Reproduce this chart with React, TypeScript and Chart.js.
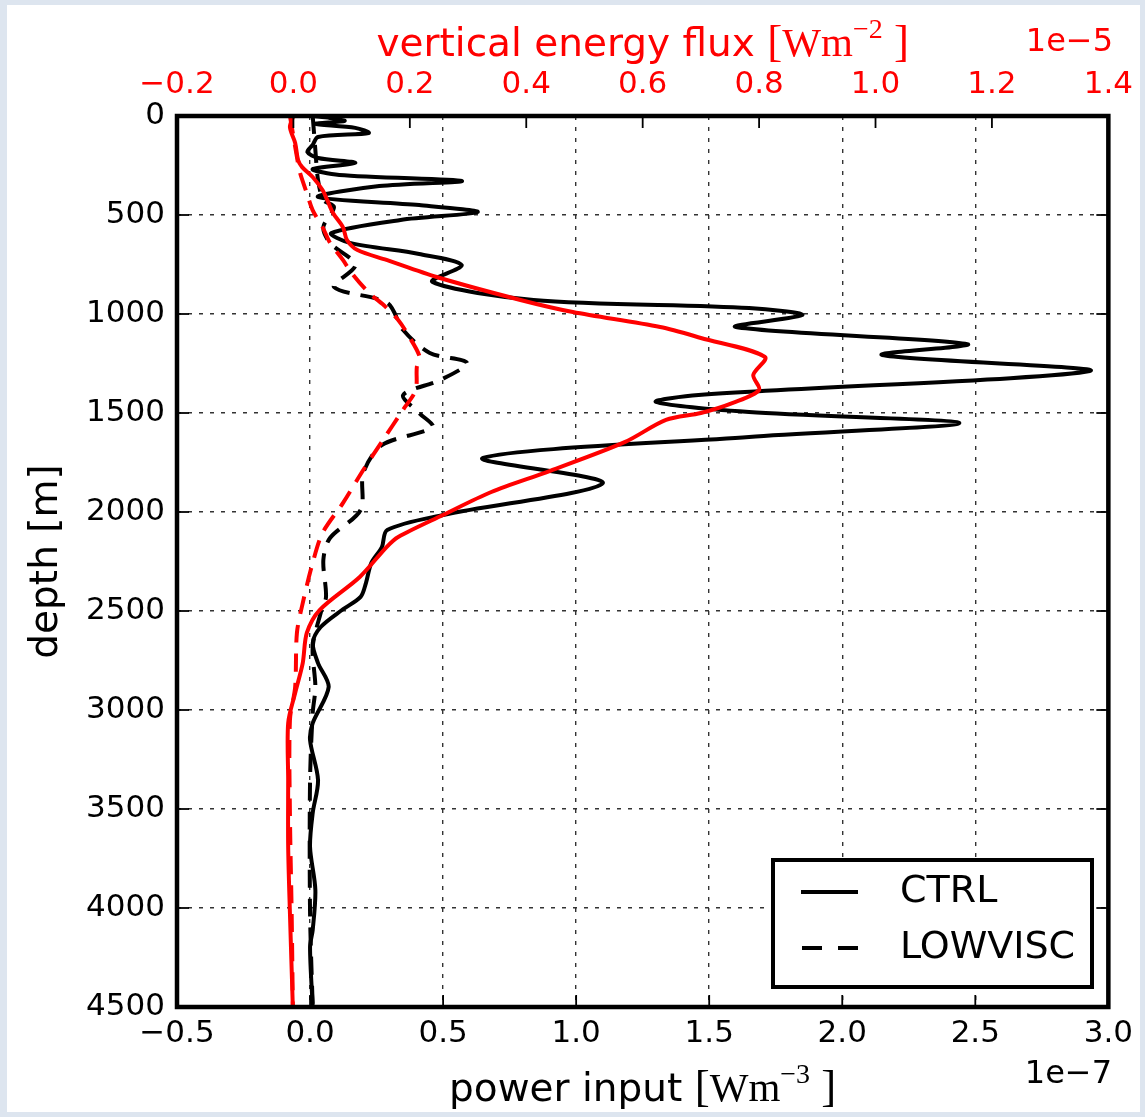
import React, { useEffect, useRef } from "react";
import { Chart, registerables } from "chart.js";

Chart.register(...registerables);

// power input, units of 1e-7 W m^-3
const ctrlPowerDepth = [0, 10, 25, 40, 60, 86, 106, 146, 182, 212, 237, 268, 298, 328, 354, 409, 450, 485, 525, 591, 641, 697, 753, 838, 929, 970, 1005, 1066, 1152, 1207, 1288, 1409, 1444, 1495, 1551, 1621, 1727, 1854, 2015, 2091, 2177, 2258, 2359, 2429, 2495, 2581, 2662, 2763, 2884, 3066, 3152, 3354, 3520, 3692, 3909, 4111, 4197, 4500];
const ctrlPower = [0.01, 0.075, 0.13, 0.02, 0.17, 0.22, 0.03, 0.01, -0.01, 0.03, 0.17, 0.01, 0.11, 0.57, 0.26, 0.03, 0.41, 0.63, 0.34, 0.08, 0.15, 0.41, 0.57, 0.46, 0.84, 1.65, 1.85, 1.6, 2.47, 2.15, 2.93, 1.46, 1.3, 1.65, 2.44, 1.65, 0.65, 1.1, 0.5, 0.29, 0.27, 0.23, 0.21, 0.19, 0.12, 0.04, 0.01, 0.03, 0.07, 0.01, 0.0, 0.03, 0.01, 0.0, 0.02, 0.01, 0.0, 0.01];

const lowviscPowerDepth = [0, 172, 323, 424, 460, 561, 641, 753, 864, 944, 1081, 1197, 1247, 1333, 1409, 1500, 1571, 1662, 1803, 1990, 2131, 2242, 2429, 2510, 2682, 2884, 3015, 3354, 4025, 4500];
const lowviscPower = [0.01, 0.02, 0.03, 0.05, 0.09, 0.05, 0.075, 0.17, 0.09, 0.29, 0.35, 0.45, 0.59, 0.49, 0.35, 0.41, 0.46, 0.27, 0.2, 0.19, 0.075, 0.05, 0.06, 0.04, 0.01, 0.02, 0.01, 0.0, 0.0, 0.01];

// vertical energy flux, units of 1e-5 W m^-2
const ctrlFluxDepth = [0, 56, 136, 222, 258, 308, 374, 424, 490, 561, 626, 677, 727, 813, 929, 990, 1066, 1121, 1217, 1308, 1384, 1449, 1500, 1535, 1646, 1793, 1899, 2015, 2126, 2177, 2328, 2495, 2611, 2763, 2914, 3066, 3354, 3692, 4025, 4500];
const ctrlFlux = [0.0, -0.006, 0.003, 0.008, 0.015, 0.033, 0.05, 0.058, 0.068, 0.085, 0.092, 0.11, 0.16, 0.246, 0.39, 0.48, 0.63, 0.7, 0.81, 0.79, 0.8, 0.755, 0.7, 0.64, 0.57, 0.44, 0.34, 0.257, 0.18, 0.16, 0.114, 0.045, 0.023, 0.016, 0.003, -0.009, -0.009, -0.009, -0.006, -0.001];

const lowviscFluxDepth = [0, 86, 207, 283, 389, 475, 561, 641, 727, 793, 894, 955, 1030, 1096, 1217, 1268, 1384, 1485, 1636, 1788, 1955, 2106, 2258, 2460, 2611, 2884, 3051, 3520, 4025, 4500];
const lowviscFlux = [-0.006, -0.001, 0.006, 0.011, 0.023, 0.033, 0.05, 0.063, 0.085, 0.1, 0.13, 0.155, 0.18, 0.195, 0.217, 0.212, 0.21, 0.188, 0.154, 0.12, 0.085, 0.05, 0.033, 0.016, 0.006, 0.003, -0.006, -0.006, -0.003, -0.001];

const seriesLabels = ["CTRL", "LOWVISC"];
const bottomTitle = "power input ";
const topTitle = "vertical energy flux ";
const leftTitle = "depth [m]";
const bottomExponent = "1e\u22127";
const topExponent = "1e\u22125";

const RED = "#ff0000";
const SANS = "'DejaVu Sans', sans-serif";
const SERIF = "'Liberation Serif', 'DejaVu Serif', serif";

const pts = (ys: number[], xs: number[]) => ys.map((y, i) => ({ x: xs[i], y }));
const fmt = (v: number) => (v < -1e-9 ? "\u2212" : "") + Math.abs(v).toFixed(1);

function drawMath(ctx: CanvasRenderingContext2D, parts: { t: string; f: string; dy?: number }[], cx: number, base: number, color: string) {
  let total = 0;
  parts.forEach((p) => {
    ctx.font = p.f;
    total += ctx.measureText(p.t).width;
  });
  let x = cx - total / 2;
  ctx.fillStyle = color;
  ctx.textAlign = "left";
  ctx.textBaseline = "alphabetic";
  parts.forEach((p) => {
    ctx.font = p.f;
    ctx.fillText(p.t, x, base - (p.dy || 0));
    x += ctx.measureText(p.t).width;
  });
}

const decorPlugin = {
  id: "decor",
  afterDraw(chart: any) {
    const ctx: CanvasRenderingContext2D = chart.ctx;
    const { left, right, top, bottom } = chart.chartArea;
    const { x, x2, y } = chart.scales;
    ctx.save();
    // inward ticks
    ctx.strokeStyle = "#000";
    ctx.lineWidth = 1.8;
    const TL = 12;
    const seg = (a: number, b: number, c: number, d: number) => {
      ctx.beginPath();
      ctx.moveTo(a, b);
      ctx.lineTo(c, d);
      ctx.stroke();
    };
    x.ticks.forEach((t: any) => {
      const p = x.getPixelForValue(t.value);
      seg(p, bottom, p, bottom - TL);
    });
    x2.ticks.forEach((t: any) => {
      const p = x2.getPixelForValue(t.value);
      seg(p, top, p, top + TL);
    });
    y.ticks.forEach((t: any) => {
      const p = y.getPixelForValue(t.value);
      seg(left, p, left + TL, p);
      seg(right, p, right - TL, p);
    });
    // frame
    ctx.lineWidth = 4.5;
    ctx.strokeRect(left, top, right - left, bottom - top);

    // legend
    ctx.fillStyle = "#fff";
    ctx.fillRect(773, 860, 319, 127);
    ctx.lineWidth = 4;
    ctx.strokeRect(773, 860, 319, 127);
    ctx.strokeStyle = "#000";
    ctx.lineWidth = 4;
    ctx.setLineDash([]);
    seg(801, 892, 858, 892);
    ctx.setLineDash([20, 16]);
    seg(802, 948, 858, 948);
    ctx.setLineDash([]);
    ctx.fillStyle = "#000";
    ctx.font = `38px ${SANS}`;
    ctx.textAlign = "left";
    ctx.textBaseline = "middle";
    ctx.fillText(seriesLabels[0], 900, 892);
    ctx.fillText(seriesLabels[1], 900, 948);

    // exponents
    ctx.font = `32px ${SANS}`;
    ctx.textAlign = "right";
    ctx.fillStyle = "#000";
    ctx.fillText(bottomExponent, 1112, 1075);
    ctx.fillStyle = RED;
    ctx.fillText(topExponent, 1113, 43);

    // titles
    const cx = (left + right) / 2;
    drawMath(
      ctx,
      [
        { t: bottomTitle, f: `39px ${SANS}` },
        { t: "[", f: `45px ${SERIF}` },
        { t: "Wm", f: `41px ${SERIF}` },
        { t: "\u22123", f: `28px ${SERIF}`, dy: 18 },
        { t: " ]", f: `45px ${SERIF}` },
      ],
      cx,
      1101,
      "#000"
    );
    drawMath(
      ctx,
      [
        { t: topTitle, f: `39px ${SANS}` },
        { t: "[", f: `45px ${SERIF}` },
        { t: "Wm", f: `41px ${SERIF}` },
        { t: "\u22122", f: `28px ${SERIF}`, dy: 18 },
        { t: " ]", f: `45px ${SERIF}` },
      ],
      cx,
      56,
      RED
    );
    ctx.translate(47, (top + bottom) / 2);
    ctx.rotate(-Math.PI / 2);
    ctx.font = `39px ${SANS}`;
    ctx.fillStyle = "#000";
    ctx.textAlign = "center";
    ctx.textBaseline = "middle";
    ctx.fillText(leftTitle, 0, 0);
    ctx.restore();
  },
};

export default function App() {
  const ref = useRef<HTMLCanvasElement>(null);
  useEffect(() => {
    if (!ref.current) return;
    const tickFont = { family: SANS, size: 31 };
    const gridOpts = { color: "#333", lineWidth: 1.4, drawTicks: false };
    const chart = new Chart(ref.current, {
      type: "scatter",
      data: {
        datasets: [
          {
            label: seriesLabels[0] + " flux",
            data: pts(ctrlFluxDepth, ctrlFlux),
            xAxisID: "x2",
            yAxisID: "y",
            borderColor: RED,
            borderWidth: 4,
            showLine: true,
            pointRadius: 0,
            tension: 0.3,
          },
          {
            label: seriesLabels[1] + " flux",
            data: pts(lowviscFluxDepth, lowviscFlux),
            xAxisID: "x2",
            yAxisID: "y",
            borderColor: RED,
            borderWidth: 4,
            borderDash: [18, 11],
            showLine: true,
            pointRadius: 0,
            tension: 0.3,
          },
          {
            label: seriesLabels[1],
            data: pts(lowviscPowerDepth, lowviscPower),
            xAxisID: "x",
            yAxisID: "y",
            borderColor: "#000",
            borderWidth: 4,
            borderDash: [18, 11],
            showLine: true,
            pointRadius: 0,
            tension: 0.3,
          },
          {
            label: seriesLabels[0],
            data: pts(ctrlPowerDepth, ctrlPower),
            xAxisID: "x",
            yAxisID: "y",
            borderColor: "#000",
            borderWidth: 4,
            showLine: true,
            pointRadius: 0,
            tension: 0.3,
          },
        ],
      },
      options: {
        responsive: false,
        animation: false,
        devicePixelRatio: 1,
        layout: { padding: { left: 0, right: 36, top: 0, bottom: 0 } },
        plugins: { legend: { display: false }, tooltip: { enabled: false } },
        scales: {
          x: {
            type: "linear",
            position: "bottom",
            min: -0.5,
            max: 3.0,
            ticks: { stepSize: 0.5, color: "#000", font: tickFont, padding: 8, maxRotation: 0, autoSkip: false, callback: (v: any) => fmt(Number(v)) },
            grid: gridOpts,
            border: { display: false, dash: [4, 7] },
            afterFit: (s: any) => {
              s.height = 110;
            },
          },
          x2: {
            type: "linear",
            position: "top",
            min: -0.2,
            max: 1.4,
            ticks: { stepSize: 0.2, color: RED, font: tickFont, padding: 12, maxRotation: 0, autoSkip: false, callback: (v: any) => fmt(Number(v)) },
            grid: { display: false, drawTicks: false },
            border: { display: false },
            afterFit: (s: any) => {
              s.height = 116;
            },
          },
          y: {
            type: "linear",
            position: "left",
            reverse: true,
            min: 0,
            max: 4500,
            ticks: { stepSize: 500, color: "#000", font: tickFont, padding: 12, autoSkip: false, callback: (v: any) => String(v) },
            grid: gridOpts,
            border: { display: false, dash: [4, 7] },
            afterFit: (s: any) => {
              s.width = 177;
            },
          },
        },
      },
      plugins: [decorPlugin],
    } as any);
    return () => chart.destroy();
  }, []);
  return (
    <div style={{ position: "fixed", left: 0, top: 0, width: 1145, height: 1117, background: "#dde5ef" }}>
      <div style={{ position: "absolute", left: 7, top: 5, width: 1133, height: 1107, background: "#fff" }} />
      <canvas ref={ref} width={1145} height={1117} style={{ position: "absolute", left: 0, top: 0, width: 1145, height: 1117 }} />
    </div>
  );
}
